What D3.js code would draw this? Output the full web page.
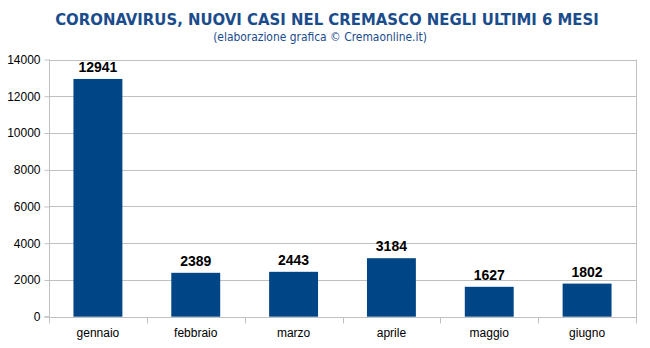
<!DOCTYPE html>
<html><head><meta charset="utf-8">
<script src="https://cdn.jsdelivr.net/npm/d3@7"></script>
<style>body{margin:0;background:#fff}svg{display:block}</style>
</head><body>
<svg id="c" width="650" height="348"></svg>
<script>
const categories = ["gennaio","febbraio","marzo","aprile","maggio","giugno"];
const values = [12941, 2389, 2443, 3184, 1627, 1802];
const yTicks = [0,2000,4000,6000,8000,10000,12000,14000];
const title = "CORONAVIRUS, NUOVI CASI NEL CREMASCO NEGLI ULTIMI 6 MESI";
const subtitle = "(elaborazione grafica \u00A9 Cremaonline.it)";

const svg = d3.select("#c");
const L = 49, R = 636, T = 59.5, B = 316.7;
const x = d3.scaleBand().domain(categories).range([L, R]).paddingInner(0.5).paddingOuter(0.25);
const y = d3.scaleLinear().domain([0, 14000]).range([B, T]);
const grid = "#c0c0c0";

function fitText(sel, target, size) {
  const w = sel.node().getComputedTextLength();
  if (w > 0) sel.attr("font-size", size * target / w);
}

const tt = svg.append("text").attr("x", 327).attr("y", 25).attr("text-anchor","middle")
  .attr("font-family","'DejaVu Sans Condensed','DejaVu Sans'").attr("font-stretch","condensed")
  .attr("font-weight","bold").attr("font-size",17)
  .attr("fill","#1b4c8c").text(title);
fitText(tt, 544, 17);
const st = svg.append("text").attr("x", 320).attr("y", 41).attr("text-anchor","middle")
  .attr("font-family","'DejaVu Sans Condensed','DejaVu Sans'").attr("font-stretch","condensed")
  .attr("font-size",12).attr("fill","#1b4c8c").text(subtitle);
fitText(st, 214, 12);

// gridlines
svg.append("g").selectAll("line").data(yTicks.filter(d=>d>0)).join("line")
  .attr("x1", L).attr("x2", R).attr("y1", d=>Math.round(y(d))+0.5).attr("y2", d=>Math.round(y(d))+0.5)
  .attr("stroke", grid).attr("stroke-width",1);

// y axis
const ya = svg.append("g").attr("transform",`translate(${L+0.5},0)`)
  .call(d3.axisLeft(y).tickValues(yTicks).tickSize(5).tickPadding(4).tickFormat(d3.format("d")));
ya.select(".domain").attr("stroke", grid).attr("d", `M-5,${y(0)}H0V${T}`);
ya.selectAll(".tick line").attr("stroke", grid);
ya.selectAll(".tick text").attr("font-family","Liberation Sans").attr("font-size",12).attr("fill","#000");

// right border
svg.append("line").attr("x1",R+0.5).attr("x2",R+0.5).attr("y1",T).attr("y2",B+6).attr("stroke",grid);

// x axis
const xa = svg.append("g").attr("transform",`translate(0,${Math.round(B)+0.5})`);
xa.append("line").attr("x1",L).attr("x2",R).attr("stroke",grid);
const bounds = d3.range(categories.length+1).map(i => L + i*(R-L)/categories.length);
xa.selectAll("line.tk").data(bounds).join("line").attr("class","tk")
  .attr("x1",d=>Math.round(d)+0.5).attr("x2",d=>Math.round(d)+0.5).attr("y1",0).attr("y2",6).attr("stroke",grid);
xa.selectAll("text").data(categories).join("text")
  .attr("x", d=>x(d)+x.bandwidth()/2).attr("y", 19).attr("text-anchor","middle")
  .attr("font-family","Liberation Sans").attr("font-size",12).attr("fill","#000").text(d=>d);

// bars
svg.append("g").selectAll("rect").data(values).join("rect")
  .attr("x",(d,i)=>x(categories[i])).attr("width",x.bandwidth())
  .attr("y",d=>y(d)).attr("height",d=>y(0)-y(d)).attr("fill","#004586");

// value labels
svg.append("g").selectAll("text").data(values).join("text")
  .attr("x",(d,i)=>x(categories[i])+x.bandwidth()/2).attr("y",d=>y(d)-7)
  .attr("text-anchor","middle").attr("font-family","Liberation Sans").attr("font-weight","bold")
  .attr("font-size",14).attr("fill","#000").text(d=>d);
</script>
</body></html>
